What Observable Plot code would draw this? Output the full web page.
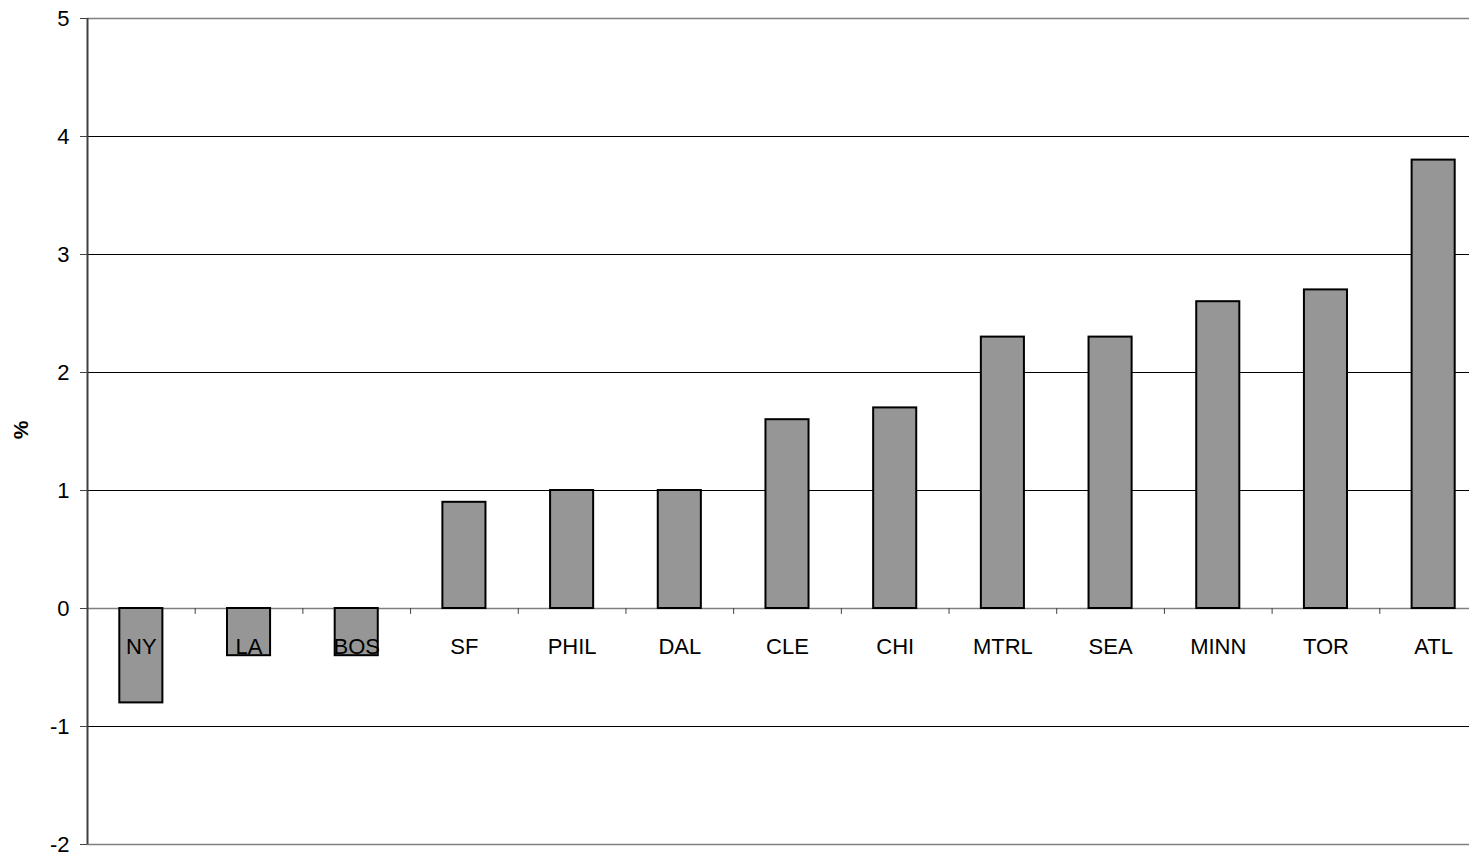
<!DOCTYPE html>
<html>
<head>
<meta charset="utf-8">
<script src="https://cdn.jsdelivr.net/npm/d3@7"></script>
<script src="https://cdn.jsdelivr.net/npm/@observablehq/plot@0.6"></script>
<style>
  html, body { margin: 0; padding: 0; background: #fff; overflow: hidden; }
  #chart svg { overflow: visible; }
</style>
</head>
<body>
<div id="chart"></div>
<script>
const cities = ["NY","LA","BOS","SF","PHIL","DAL","CLE","CHI","MTRL","SEA","MINN","TOR","ATL"];
const values = [-0.8,-0.4,-0.4,0.9,1.0,1.0,1.6,1.7,2.3,2.3,2.6,2.7,3.8];
const yTicks = [-2,-1,0,1,2,3,4,5];
const blackGrid = [-1,1,2,3,4];
const greyGrid = [-2,0,5];

const data = cities.map((c, i) => ({city: c, value: values[i]}));
const band = (1487 - 87) / cities.length;

const chart = Plot.plot({
  width: 1469,
  height: 858,
  marginTop: 18,
  marginBottom: 14,
  marginLeft: 87,
  marginRight: 0,
  style: {fontFamily: "Liberation Sans, Arial, sans-serif", background: "#fff", overflow: "visible"},
  x: {domain: cities, range: [87, 1487], paddingInner: 0.6, paddingOuter: 0.3, round: false, axis: null},
  y: {domain: [-2, 5], axis: null},
  marks: [
    Plot.ruleY(blackGrid, {y: d => d, stroke: "#000", strokeWidth: 1}),
    Plot.ruleY(greyGrid, {y: d => d, stroke: "#808080", strokeWidth: 1.5}),
    Plot.ruleX(cities, {x: d => d, dx: band / 2, y1: 0, y2: -0.05, stroke: "#404040", strokeWidth: 1}),
    Plot.barY(data, {x: "city", y: "value", fill: "#969696", stroke: "#000", strokeWidth: 2}),
    Plot.text(data, {x: "city", y: () => 0, dy: 38, text: "city", fontSize: 22, fill: "#000"}),
    Plot.axisY(yTicks, {anchor: "left", tickSize: 7, tickPadding: 11, fontSize: 22, color: "#000", stroke: "#404040", label: null, tickFormat: d => String(d)}),
    Plot.ruleX([0], {x: () => cities[0], dx: -band / 2, y1: -2, y2: 5, stroke: "#404040", strokeWidth: 2})
  ]
});

document.getElementById("chart").appendChild(chart);

// y-axis label
const svg = d3.select(chart);
svg.append("text")
  .attr("transform", "translate(22,430) rotate(-90)")
  .attr("text-anchor", "middle")
  .attr("dominant-baseline", "middle")
  .attr("font-family", "Liberation Sans, Arial, sans-serif")
  .attr("font-weight", "bold")
  .attr("font-size", 21)
  .text("%");
</script>
</body>
</html>
